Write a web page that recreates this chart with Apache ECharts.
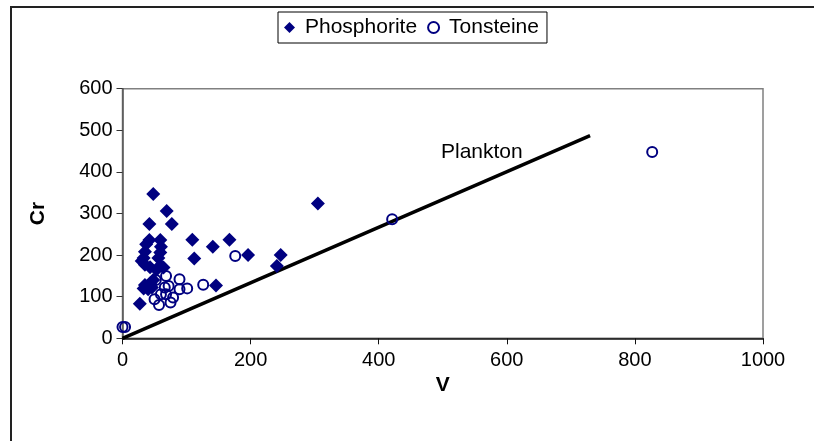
<!DOCTYPE html>
<html>
<head>
<meta charset="utf-8">
<script src="https://cdn.jsdelivr.net/npm/echarts@6/dist/echarts.min.js"></script>
<style>
  html, body { margin: 0; padding: 0; background: #fff; }
  #chart { width: 814px; height: 441px; }
</style>
</head>
<body>
<div id="chart"></div>
<script>
// V / Cr pairs (ppm)
const phosphorite = [
  [48, 347], [69, 306], [42, 275], [77, 275], [109, 237], [167, 237],
  [141, 220], [196, 200], [112, 192], [146, 127], [27, 83], [305, 324],
  [247, 200], [241, 174],
  [42, 236], [59, 236], [37, 226], [60, 220], [35, 208], [59, 206],
  [33, 193], [56, 193], [30, 186], [35, 177], [59, 175], [43, 171],
  [53, 165], [64, 170], [48, 140], [43, 132], [38, 124], [33, 120],
  [46, 122], [35, 128], [40, 118]
];
const tonsteine = [
  [0, 27], [4, 27], [50, 94], [57, 80], [60, 106], [68, 106], [66, 122],
  [72, 126], [68, 150], [89, 142], [89, 118], [101, 120], [79, 98],
  [75, 86], [126, 129], [176, 198], [421, 286], [827, 448], [52, 140]
];
// Plankton reference line, Cr = 2/3 V
const planktonLine = [[0, 0], [730, 487]];
const planktonLabelAt = [561, 448];

const xTicks = { min: 0, max: 1000, interval: 200 };
const yTicks = { min: 0, max: 600, interval: 100 };

const FONT = 'Liberation Sans, Arial, sans-serif';
const NAVY = '#000080';

const chart = echarts.init(document.getElementById('chart'), null, { renderer: 'canvas' });

chart.setOption({
  animation: false,
  backgroundColor: '#fff',
  textStyle: { fontFamily: FONT },
  graphic: [{
    type: 'rect',
    shape: { x: 11, y: 7, width: 900, height: 600 },
    style: { fill: 'none', stroke: '#222', lineWidth: 2 },
    silent: true,
    z: -1
  }],
  legend: {
    left: 278,
    top: 12,
    padding: [5, 8, 5, 6],
    borderColor: '#000',
    borderWidth: 1,
    itemGap: 10,
    itemWidth: 11,
    itemHeight: 11,
    textStyle: { fontSize: 21, color: '#000', fontFamily: FONT, padding: [0, 0, 0, 5] },
    data: [
      { name: 'Phosphorite', icon: 'diamond' },
      { name: 'Tonsteine', icon: 'circle' }
    ]
  },
  grid: {
    left: 122.5,
    right: 51,
    top: 88.7,
    bottom: 102.7,
    show: true,
    borderColor: '#808080',
    borderWidth: 1.5,
    backgroundColor: 'transparent'
  },
  xAxis: {
    type: 'value',
    min: xTicks.min,
    max: xTicks.max,
    interval: xTicks.interval,
    name: 'V',
    nameLocation: 'middle',
    nameGap: 34,
    nameTextStyle: { fontSize: 21, fontWeight: 'bold', color: '#000', fontFamily: FONT },
    axisLine: { show: true, lineStyle: { color: '#111', width: 1.5 } },
    axisTick: { show: true, inside: false, length: 6, lineStyle: { color: '#111' } },
    axisLabel: { fontSize: 20, color: '#000', margin: 12, fontFamily: FONT, formatter: v => String(v) },
    splitLine: { show: false }
  },
  yAxis: {
    type: 'value',
    min: yTicks.min,
    max: yTicks.max,
    interval: yTicks.interval,
    name: 'Cr',
    nameLocation: 'middle',
    nameGap: 74,
    nameRotate: 90,
    nameTextStyle: { fontSize: 21, fontWeight: 'bold', color: '#000', fontFamily: FONT },
    axisLine: { show: true, lineStyle: { color: '#555', width: 1.5 } },
    axisTick: { show: true, inside: false, length: 6, lineStyle: { color: '#333' } },
    axisLabel: { fontSize: 20, color: '#000', margin: 10, fontFamily: FONT, formatter: v => String(v) },
    splitLine: { show: false }
  },
  series: [
    {
      name: 'Plankton',
      type: 'line',
      data: planktonLine,
      showSymbol: false,
      symbol: 'none',
      lineStyle: { color: '#000', width: 3.5 },
      z: 1,
      silent: true
    },
    {
      name: 'Plankton label',
      type: 'scatter',
      data: [planktonLabelAt],
      symbolSize: 0,
      itemStyle: { color: '#000', opacity: 1 },
      label: {
        show: true,
        position: 'inside',
        formatter: 'Plankton',
        fontSize: 21,
        color: '#000',
        opacity: 1,
        textBorderWidth: 0,
        fontFamily: FONT
      },
      z: 1,
      silent: true
    },
    {
      name: 'Phosphorite',
      type: 'scatter',
      symbol: 'diamond',
      symbolSize: [14, 14],
      data: phosphorite,
      itemStyle: { color: NAVY, opacity: 1 },
      z: 3
    },
    {
      name: 'Tonsteine',
      type: 'scatter',
      symbol: 'circle',
      symbolSize: 10,
      data: tonsteine,
      itemStyle: { color: 'rgba(255,255,255,0)', borderColor: NAVY, borderWidth: 2, opacity: 1 },
      z: 4
    }
  ]
});
</script>
</body>
</html>
